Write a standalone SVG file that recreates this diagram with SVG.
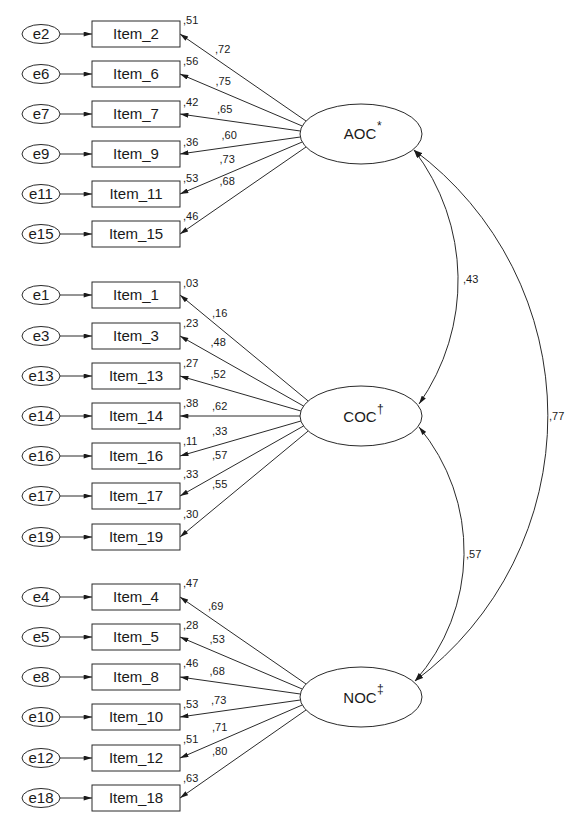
<svg xmlns="http://www.w3.org/2000/svg" width="574" height="820" viewBox="0 0 574 820">
<style>
.bg{fill:#fff}
.box{fill:#fff;stroke:#2a2a2a;stroke-width:1}
.err{fill:#fff;stroke:#2a2a2a;stroke-width:1}
.lat{fill:#fff;stroke:#2a2a2a;stroke-width:1}
.lbl{font-family:"Liberation Sans",Arial,sans-serif;font-size:15px;fill:#1a1a1a;text-anchor:middle}
.sup{font-family:"Liberation Sans",Arial,sans-serif;font-size:12px;fill:#1a1a1a}
.num{font-family:"Liberation Sans",Arial,sans-serif;font-size:11px;fill:#1a1a1a}
.ln{fill:none;stroke:#2a2a2a;stroke-width:1;marker-end:url(#ah)}
.cv{fill:none;stroke:#2a2a2a;stroke-width:1;marker-start:url(#ah);marker-end:url(#ah)}
</style>
<defs>
<marker id="ah" viewBox="0 0 10 6" refX="10" refY="3" markerWidth="9" markerHeight="5" markerUnits="userSpaceOnUse" orient="auto-start-reverse">
<path d="M0,0 L10,3 L0,6 z" fill="#1a1a1a"/>
</marker>
</defs>
<rect class="bg" x="0" y="0" width="574" height="820"/>

<g id="connectors">
<path class="ln" d="M60,34 L92,34"/>
<path class="ln" d="M60,74 L92,74"/>
<path class="ln" d="M60,114 L92,114"/>
<path class="ln" d="M60,154 L92,154"/>
<path class="ln" d="M60,194 L92,194"/>
<path class="ln" d="M60,234 L92,234"/>
<path class="ln" d="M60,295 L92,295"/>
<path class="ln" d="M60,336 L92,336"/>
<path class="ln" d="M60,376 L92,376"/>
<path class="ln" d="M60,416 L92,416"/>
<path class="ln" d="M60,456 L92,456"/>
<path class="ln" d="M60,496 L92,496"/>
<path class="ln" d="M60,537 L92,537"/>
<path class="ln" d="M60,597 L92,597"/>
<path class="ln" d="M60,637 L92,637"/>
<path class="ln" d="M60,677 L92,677"/>
<path class="ln" d="M60,717 L92,717"/>
<path class="ln" d="M60,758 L92,758"/>
<path class="ln" d="M60,798 L92,798"/>
<path class="ln" d="M306,121 L180,34"/>
<path class="ln" d="M302.2,126 L180,74"/>
<path class="ln" d="M300.3,131 L180,114"/>
<path class="ln" d="M300.3,137 L180,154"/>
<path class="ln" d="M302.2,142 L180,194"/>
<path class="ln" d="M306,147 L180,234"/>
<path class="ln" d="M308.2,401 L180,295"/>
<path class="ln" d="M303.5,406 L180,336"/>
<path class="ln" d="M300.9,411 L180,376"/>
<path class="ln" d="M300,416 L180,416"/>
<path class="ln" d="M300.9,421 L180,456"/>
<path class="ln" d="M303.5,426 L180,496"/>
<path class="ln" d="M308.2,431 L180,537"/>
<path class="ln" d="M306,684 L180,597"/>
<path class="ln" d="M302.2,689 L180,637"/>
<path class="ln" d="M300.3,694 L180,677"/>
<path class="ln" d="M300.3,700 L180,717"/>
<path class="ln" d="M302.2,705 L180,758"/>
<path class="ln" d="M306,710 L180,798"/>
<path class="cv" d="M414,150 A215,215 0 0 1 419,404"/>
<path class="cv" d="M419,427 A195,195 0 0 1 415,681"/>
<path class="cv" d="M414,150 A331,331 0 0 1 415,681"/>
</g>

<g id="connector-labels">
<text class="num" x="183" y="24">,51</text>
<text class="num" x="215" y="52.5">,72</text>
<text class="num" x="183" y="64.5">,56</text>
<text class="num" x="215.5" y="84.5">,75</text>
<text class="num" x="183" y="105.5">,42</text>
<text class="num" x="217" y="113">,65</text>
<text class="num" x="183" y="145.5">,36</text>
<text class="num" x="221.5" y="139">,60</text>
<text class="num" x="183" y="181.5">,53</text>
<text class="num" x="219.5" y="163">,73</text>
<text class="num" x="219.5" y="185">,68</text>
<text class="num" x="183" y="220">,46</text>
<text class="num" x="183" y="286.5">,03</text>
<text class="num" x="212" y="316.5">,16</text>
<text class="num" x="183" y="326.5">,23</text>
<text class="num" x="210.5" y="346">,48</text>
<text class="num" x="183" y="367">,27</text>
<text class="num" x="210.5" y="378">,52</text>
<text class="num" x="183" y="406.5">,38</text>
<text class="num" x="212" y="410">,62</text>
<text class="num" x="183" y="445">,11</text>
<text class="num" x="212" y="435">,33</text>
<text class="num" x="212" y="459">,57</text>
<text class="num" x="183" y="478">,33</text>
<text class="num" x="212" y="488">,55</text>
<text class="num" x="183" y="518">,30</text>
<text class="num" x="183" y="587">,47</text>
<text class="num" x="208" y="610">,69</text>
<text class="num" x="183" y="629">,28</text>
<text class="num" x="209.5" y="643">,53</text>
<text class="num" x="183" y="667">,46</text>
<text class="num" x="209.5" y="675">,68</text>
<text class="num" x="183" y="708">,53</text>
<text class="num" x="211" y="704">,73</text>
<text class="num" x="183" y="742.5">,51</text>
<text class="num" x="212" y="730.5">,71</text>
<text class="num" x="212" y="755">,80</text>
<text class="num" x="183" y="781.5">,63</text>
<text class="num" x="463" y="283">,43</text>
<text class="num" x="466" y="558">,57</text>
<text class="num" x="549" y="420">,77</text>
</g>

<g id="AOC"><ellipse class="lat" cx="361" cy="134" rx="61" ry="30"/><text class="lbl" x="360" y="139">AOC</text><text class="sup" x="377" y="130">*</text></g>
<g id="COC"><ellipse class="lat" cx="361" cy="416" rx="61" ry="30"/><text class="lbl" x="360" y="422">COC</text><text class="sup" x="377" y="413">†</text></g>
<g id="NOC"><ellipse class="lat" cx="361" cy="697" rx="61" ry="30"/><text class="lbl" x="360" y="703">NOC</text><text class="sup" x="377" y="693">‡</text></g>

<g id="e2"><ellipse class="err" cx="41" cy="34" rx="19" ry="9.5"/><text class="lbl" x="41" y="39">e2</text></g>
<g id="Item_2"><rect class="box" x="92" y="21" width="88" height="26"/><text class="lbl" x="136" y="39">Item_2</text></g>
<g id="e6"><ellipse class="err" cx="41" cy="74" rx="19" ry="9.5"/><text class="lbl" x="41" y="79">e6</text></g>
<g id="Item_6"><rect class="box" x="92" y="61" width="88" height="26"/><text class="lbl" x="136" y="79">Item_6</text></g>
<g id="e7"><ellipse class="err" cx="41" cy="114" rx="19" ry="9.5"/><text class="lbl" x="41" y="119">e7</text></g>
<g id="Item_7"><rect class="box" x="92" y="101" width="88" height="26"/><text class="lbl" x="136" y="119">Item_7</text></g>
<g id="e9"><ellipse class="err" cx="41" cy="154" rx="19" ry="9.5"/><text class="lbl" x="41" y="159">e9</text></g>
<g id="Item_9"><rect class="box" x="92" y="141" width="88" height="26"/><text class="lbl" x="136" y="159">Item_9</text></g>
<g id="e11"><ellipse class="err" cx="41" cy="194" rx="19" ry="9.5"/><text class="lbl" x="41" y="199">e11</text></g>
<g id="Item_11"><rect class="box" x="92" y="181" width="88" height="26"/><text class="lbl" x="136" y="199">Item_11</text></g>
<g id="e15"><ellipse class="err" cx="41" cy="234" rx="19" ry="9.5"/><text class="lbl" x="41" y="239">e15</text></g>
<g id="Item_15"><rect class="box" x="92" y="221" width="88" height="26"/><text class="lbl" x="136" y="239">Item_15</text></g>

<g id="e1"><ellipse class="err" cx="41" cy="295" rx="19" ry="9.5"/><text class="lbl" x="41" y="300">e1</text></g>
<g id="Item_1"><rect class="box" x="92" y="282" width="88" height="26"/><text class="lbl" x="136" y="300">Item_1</text></g>
<g id="e3"><ellipse class="err" cx="41" cy="336" rx="19" ry="9.5"/><text class="lbl" x="41" y="341">e3</text></g>
<g id="Item_3"><rect class="box" x="92" y="323" width="88" height="26"/><text class="lbl" x="136" y="341">Item_3</text></g>
<g id="e13"><ellipse class="err" cx="41" cy="376" rx="19" ry="9.5"/><text class="lbl" x="41" y="381">e13</text></g>
<g id="Item_13"><rect class="box" x="92" y="363" width="88" height="26"/><text class="lbl" x="136" y="381">Item_13</text></g>
<g id="e14"><ellipse class="err" cx="41" cy="416" rx="19" ry="9.5"/><text class="lbl" x="41" y="421">e14</text></g>
<g id="Item_14"><rect class="box" x="92" y="403" width="88" height="26"/><text class="lbl" x="136" y="421">Item_14</text></g>
<g id="e16"><ellipse class="err" cx="41" cy="456" rx="19" ry="9.5"/><text class="lbl" x="41" y="461">e16</text></g>
<g id="Item_16"><rect class="box" x="92" y="443" width="88" height="26"/><text class="lbl" x="136" y="461">Item_16</text></g>
<g id="e17"><ellipse class="err" cx="41" cy="496" rx="19" ry="9.5"/><text class="lbl" x="41" y="501">e17</text></g>
<g id="Item_17"><rect class="box" x="92" y="483" width="88" height="26"/><text class="lbl" x="136" y="501">Item_17</text></g>
<g id="e19"><ellipse class="err" cx="41" cy="537" rx="19" ry="9.5"/><text class="lbl" x="41" y="542">e19</text></g>
<g id="Item_19"><rect class="box" x="92" y="524" width="88" height="26"/><text class="lbl" x="136" y="542">Item_19</text></g>

<g id="e4"><ellipse class="err" cx="41" cy="597" rx="19" ry="9.5"/><text class="lbl" x="41" y="602">e4</text></g>
<g id="Item_4"><rect class="box" x="92" y="584" width="88" height="26"/><text class="lbl" x="136" y="602">Item_4</text></g>
<g id="e5"><ellipse class="err" cx="41" cy="637" rx="19" ry="9.5"/><text class="lbl" x="41" y="642">e5</text></g>
<g id="Item_5"><rect class="box" x="92" y="624" width="88" height="26"/><text class="lbl" x="136" y="642">Item_5</text></g>
<g id="e8"><ellipse class="err" cx="41" cy="677" rx="19" ry="9.5"/><text class="lbl" x="41" y="682">e8</text></g>
<g id="Item_8"><rect class="box" x="92" y="664" width="88" height="26"/><text class="lbl" x="136" y="682">Item_8</text></g>
<g id="e10"><ellipse class="err" cx="41" cy="717" rx="19" ry="9.5"/><text class="lbl" x="41" y="722">e10</text></g>
<g id="Item_10"><rect class="box" x="92" y="704" width="88" height="26"/><text class="lbl" x="136" y="722">Item_10</text></g>
<g id="e12"><ellipse class="err" cx="41" cy="758" rx="19" ry="9.5"/><text class="lbl" x="41" y="763">e12</text></g>
<g id="Item_12"><rect class="box" x="92" y="745" width="88" height="26"/><text class="lbl" x="136" y="763">Item_12</text></g>
<g id="e18"><ellipse class="err" cx="41" cy="798" rx="19" ry="9.5"/><text class="lbl" x="41" y="803">e18</text></g>
<g id="Item_18"><rect class="box" x="92" y="785" width="88" height="26"/><text class="lbl" x="136" y="803">Item_18</text></g>
</svg>
